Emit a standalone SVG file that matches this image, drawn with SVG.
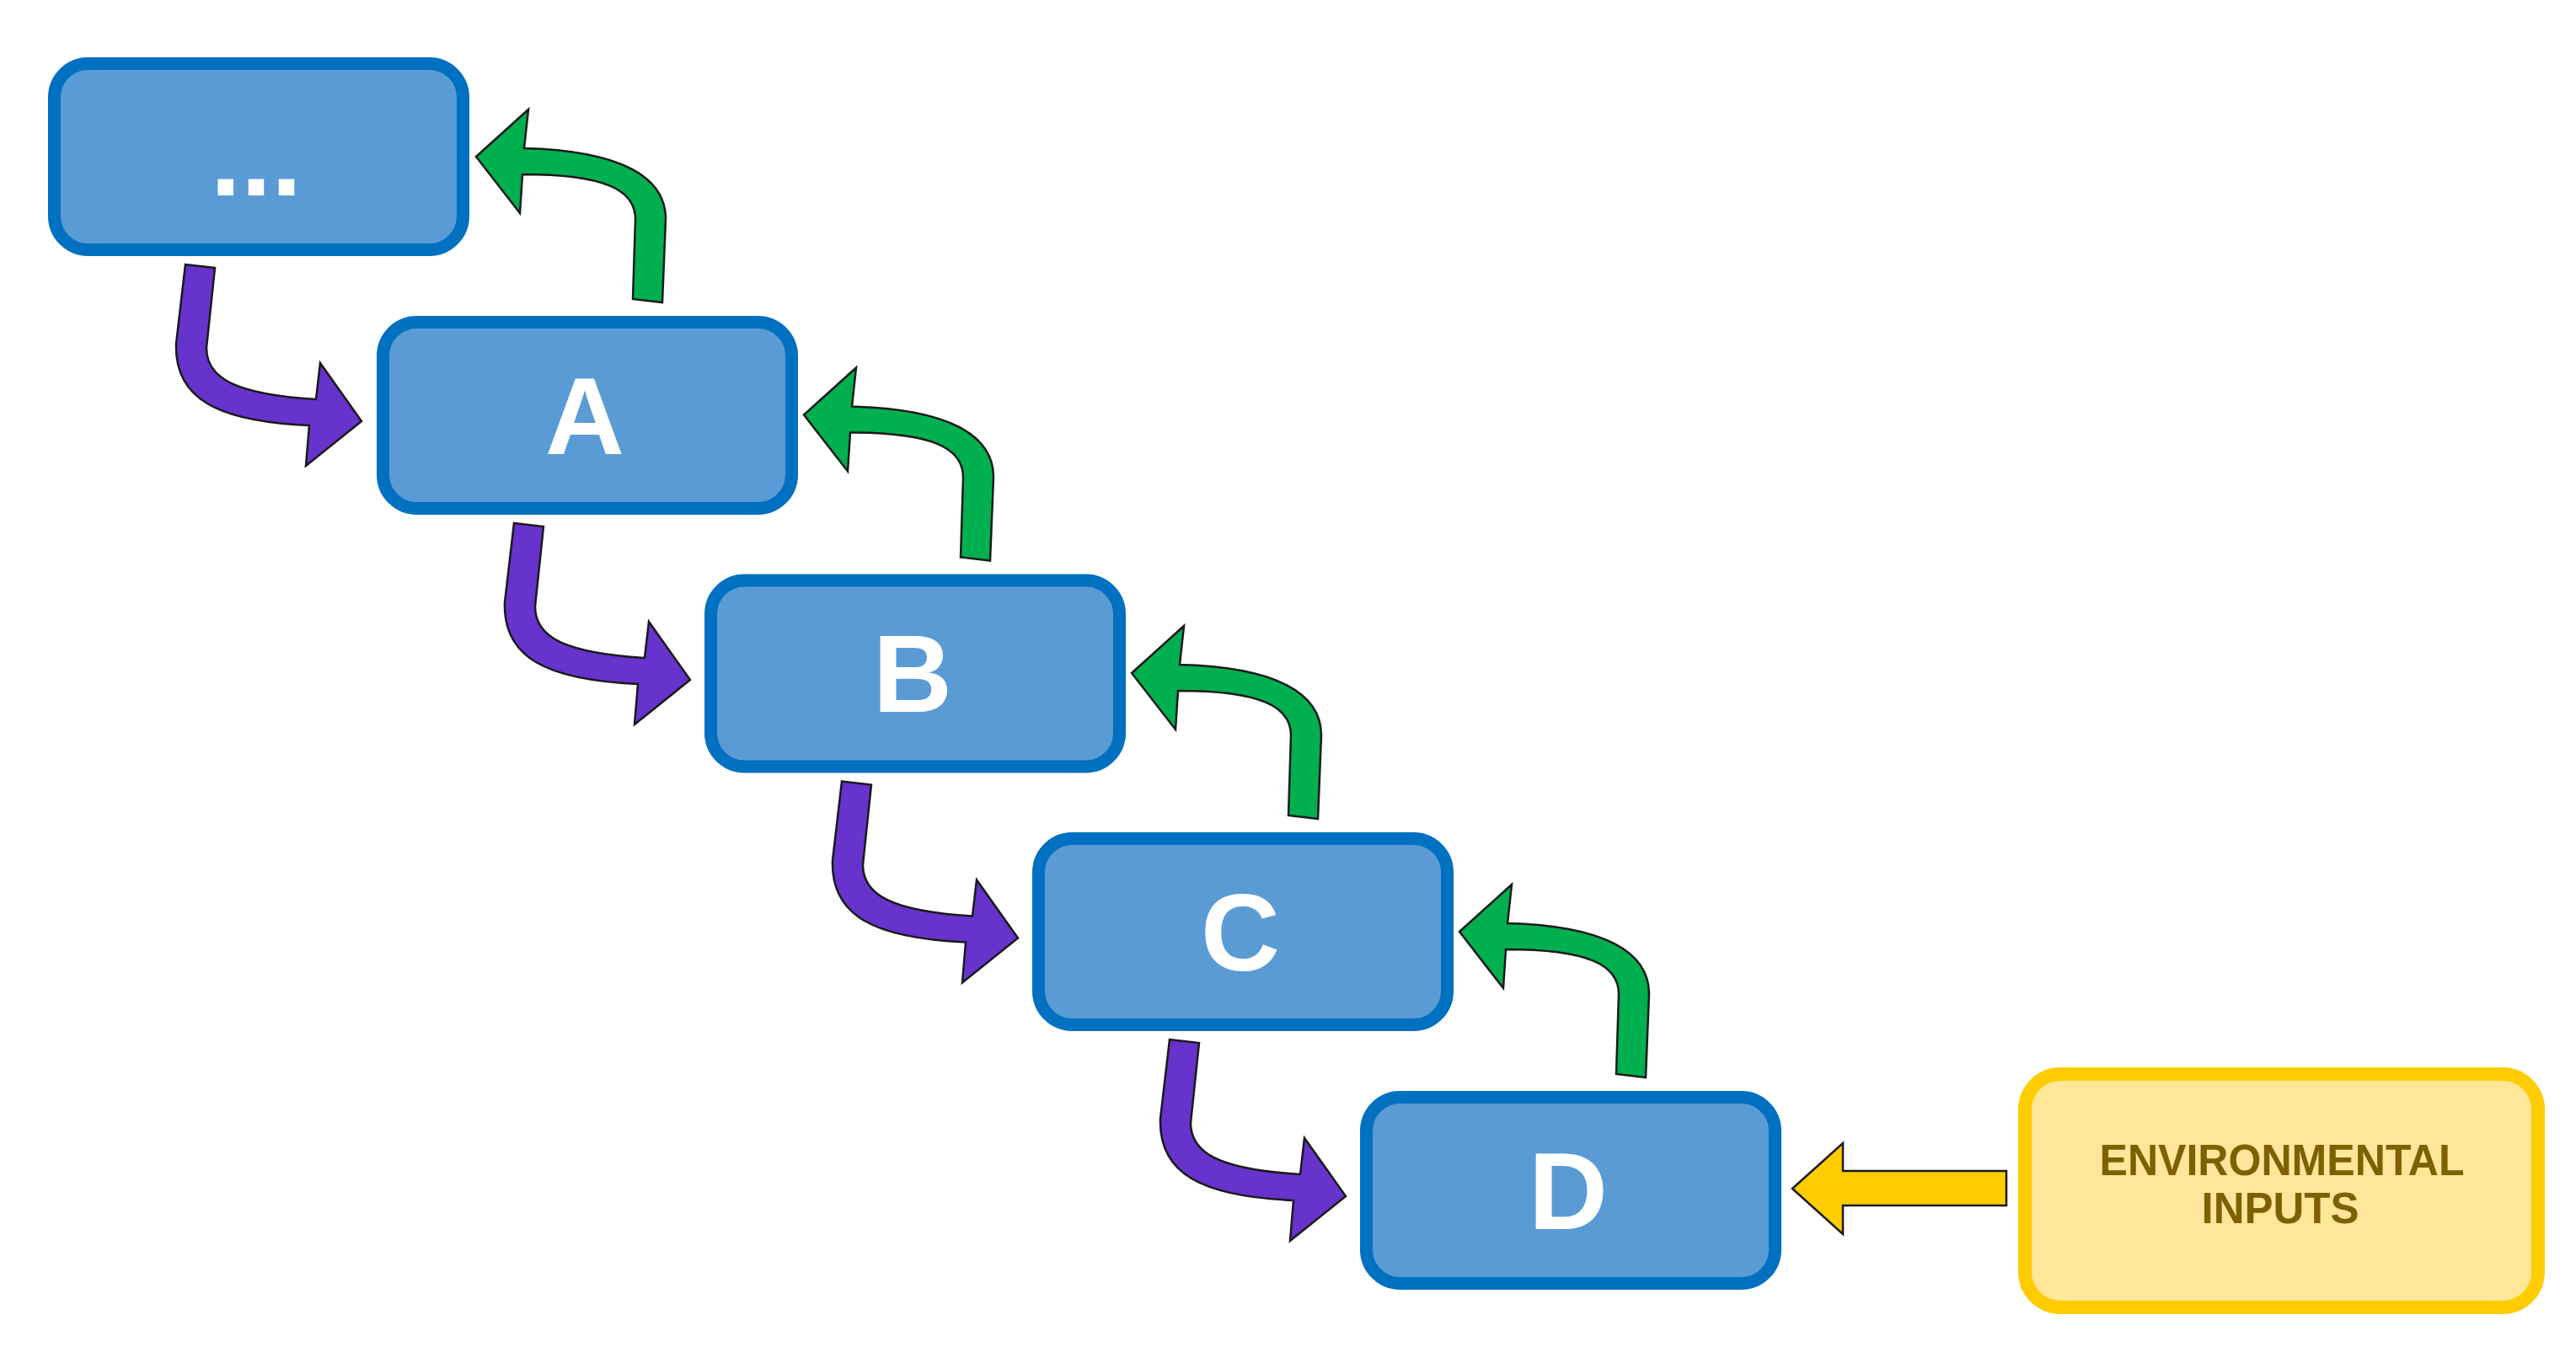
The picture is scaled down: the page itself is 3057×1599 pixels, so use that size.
<svg xmlns="http://www.w3.org/2000/svg" xmlns:xlink="http://www.w3.org/1999/xlink" width="3057" height="1599" viewBox="0 0 3057 1599">
  <style>
    .box { fill: #5B9BD5; stroke: #0070C0; stroke-width: 15; }
    .lbl { font-family: "Liberation Sans", Arial, sans-serif; font-weight: bold; font-size: 130px; fill: #FFFFFF; text-anchor: middle; }
    .env { fill: #FFE699; stroke: #FFCC00; stroke-width: 16; }
    .envt { font-family: "Liberation Sans", Arial, sans-serif; font-weight: bold; font-size: 51px; fill: #7F6000; text-anchor: middle; }
    .down { fill: #6633CC; stroke: #1a1a1a; stroke-width: 2.5; stroke-linejoin: miter; }
    .up { fill: #00B050; stroke: #1a1a1a; stroke-width: 2.5; stroke-linejoin: miter; }
    .inp { fill: #FFCC00; stroke: #1a1a1a; stroke-width: 2.5; }
  </style>
  <defs>
    <path id="downArrow" d="M 163 246 L 198 250 L 188 345 C 188 380 220 400 318 406 L 323 363 L 372 432 L 306 485 L 310 437 C 200 432 150 405 152 340 Z"/>
    <path id="upArrow" d="M 304 -20 L 307 -115 C 307 -150 270 -168 173 -168 L 170 -122 L 118 -189 L 180 -245 L 175 -199 C 290 -196 343 -165 343 -115 L 339 -16 Z"/>
  </defs>
  <rect width="3057" height="1599" fill="#FFFFFF"/>

  <g id="node-top">
    <rect class="box" x="64.5" y="75.5" width="485" height="221" rx="40"/>
    <text class="lbl" x="304" y="232">...</text>
  </g>
  <g id="node-A">
    <rect class="box" x="454.5" y="382.5" width="485" height="221" rx="40"/>
    <text class="lbl" x="694" y="539">A</text>
  </g>
  <g id="node-B">
    <rect class="box" x="843.5" y="689" width="485" height="221" rx="40"/>
    <text class="lbl" x="1083" y="845">B</text>
  </g>
  <g id="node-C">
    <rect class="box" x="1232.5" y="995.5" width="485" height="221" rx="40"/>
    <text class="lbl" x="1472" y="1152">C</text>
  </g>
  <g id="node-D">
    <rect class="box" x="1621.5" y="1302.5" width="485" height="221" rx="40"/>
    <text class="lbl" x="1861" y="1459">D</text>
  </g>
  <g id="node-env">
    <rect class="env" x="2403" y="1275" width="609" height="277" rx="42"/>
    <text class="envt" x="2708" y="1395" textLength="433" lengthAdjust="spacingAndGlyphs">ENVIRONMENTAL</text>
    <text class="envt" x="2706" y="1452">INPUTS</text>
  </g>

  <g id="connectors">
    <use xlink:href="#downArrow" href="#downArrow" class="down" transform="translate(57,68)"/>
    <use xlink:href="#downArrow" href="#downArrow" class="down" transform="translate(447,375)"/>
    <use xlink:href="#downArrow" href="#downArrow" class="down" transform="translate(836,681.5)"/>
    <use xlink:href="#downArrow" href="#downArrow" class="down" transform="translate(1225,988)"/>
    <use xlink:href="#upArrow" href="#upArrow" class="up" transform="translate(447,375)"/>
    <use xlink:href="#upArrow" href="#upArrow" class="up" transform="translate(836,681.5)"/>
    <use xlink:href="#upArrow" href="#upArrow" class="up" transform="translate(1225,988)"/>
    <use xlink:href="#upArrow" href="#upArrow" class="up" transform="translate(1614,1295)"/>
    <polygon class="inp" points="2127,1411 2187,1357 2187,1390 2381,1390 2381,1431 2187,1431 2187,1465"/>
  </g>
</svg>
